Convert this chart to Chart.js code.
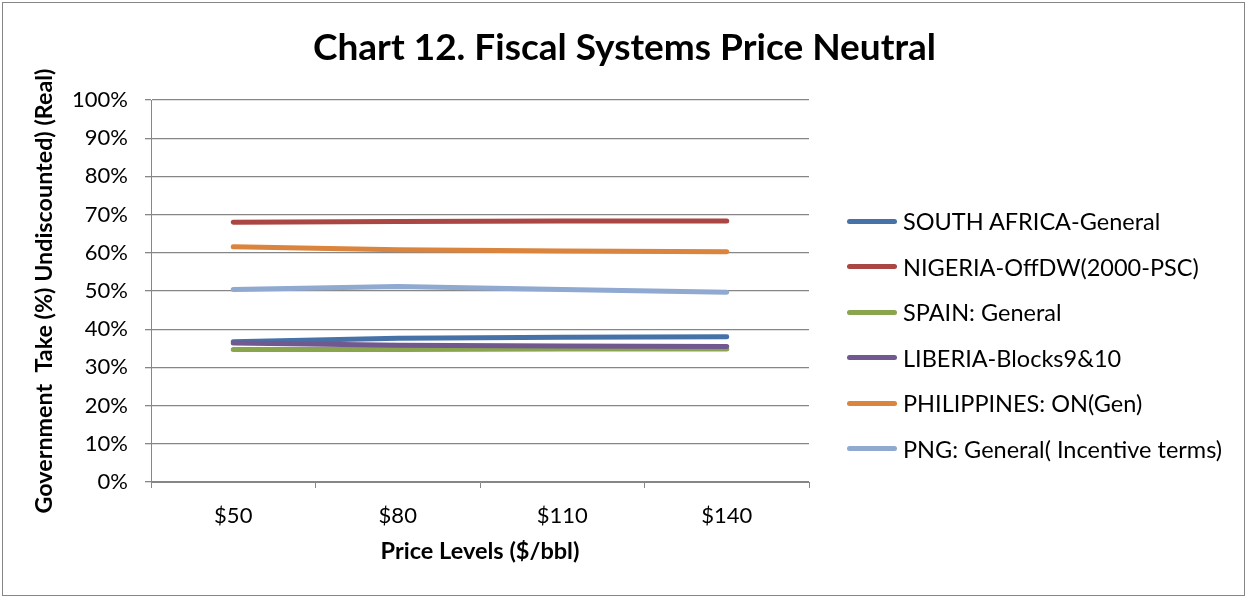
<!DOCTYPE html>
<html>
<head>
<meta charset="utf-8">
<script src="https://cdn.jsdelivr.net/npm/chart.js@4"></script>
<style>
  body { margin: 0; background: #fff; }
  .wrap { position: relative; width: 1247px; height: 598px; }
  .frame { position: absolute; left: 2px; top: 2px; width: 1241px; height: 592px; border: 1px solid #868686; pointer-events: none; }
  canvas { position: absolute; left: 0; top: 0; }
  .legend { position: absolute; left: 847px; top: 206px; font-family: Lato, sans-serif; font-size: 23.5px; color: #000; }
  .legend div { display: flex; align-items: center; height: 30px; margin-bottom: 15.5px; white-space: nowrap; }
  .legend span.sw { display: inline-block; width: 50px; height: 5px; border-radius: 2.5px; margin-right: 6px; }
</style>
</head>
<body>
<div class="wrap">
  <canvas id="chart" width="1247" height="598"></canvas>
  <div class="frame"></div>
  <div class="legend" id="legend"></div>
</div>
<script>
const prices = ["$50", "$80", "$110", "$140"];
const seriesNames = [
  "SOUTH AFRICA-General",
  "NIGERIA-OffDW(2000-PSC)",
  "SPAIN: General",
  "LIBERIA-Blocks9&10",
  "PHILIPPINES: ON(Gen)",
  "PNG: General( Incentive terms)"
];
const southAfrica = [36.7, 37.6, 37.9, 38.0];
const nigeria = [68.0, 68.2, 68.3, 68.3];
const spain = [34.7, 34.7, 34.8, 34.8];
const liberia = [36.4, 35.8, 35.6, 35.5];
const philippines = [61.6, 60.8, 60.5, 60.3];
const png = [50.4, 51.2, 50.4, 49.7];
const colors = ["#4672A8", "#AA4643", "#89A54E", "#71588F", "#DB843D", "#8FA9D0"];
const chartTitle = "Chart 12. Fiscal Systems Price Neutral";

const values = [southAfrica, nigeria, spain, liberia, philippines, png];
const font = "Lato, sans-serif";

const datasets = values.map((v, i) => ({
  label: seriesNames[i],
  data: v,
  borderColor: colors[i],
  backgroundColor: colors[i],
  borderWidth: 5,
  borderCapStyle: "round",
  borderJoinStyle: "round",
  pointRadius: 0,
  tension: 0,
  order: -i
}));

// title centred on the whole canvas, not just the plot area
const titlePlugin = {
  id: "pageTitle",
  afterDraw(chart) {
    const ctx = chart.ctx;
    ctx.save();
    ctx.font = "bold 37px " + font;
    ctx.fillStyle = "#000";
    ctx.textAlign = "center";
    ctx.textBaseline = "alphabetic";
    ctx.fillText(chartTitle, chart.width / 2 + 1, 60);
    ctx.restore();
  }
};

new Chart(document.getElementById("chart"), {
  type: "line",
  data: { labels: prices, datasets: datasets },
  options: {
    responsive: false,
    animation: false,
    devicePixelRatio: 1,
    layout: { padding: { left: 2, top: 100, right: 438, bottom: 0 } },
    plugins: {
      legend: { display: false },
      tooltip: { enabled: false }
    },
    scales: {
      x: {
        offset: true,
        grid: { offset: true, drawOnChartArea: false, drawTicks: true, tickLength: 6, color: "#868686" },
        border: { color: "#868686", width: 1 },
        ticks: { color: "#000", font: { family: font, size: 22 }, padding: 15 },
        title: {
          display: true,
          text: "Price Levels ($/bbl)",
          color: "#000",
          font: { family: font, size: 23.5, weight: "bold" },
          padding: { bottom: 32 }
        },
        afterFit: s => { s.height = 116; }
      },
      y: {
        min: 0,
        max: 100,
        grid: { color: "#868686", lineWidth: 1.3, tickLength: 6 },
        border: { color: "#868686", width: 1 },
        ticks: {
          stepSize: 10,
          color: "#000",
          font: { family: font, size: 22 },
          padding: 17,
          callback: v => v + "%"
        },
        title: {
          display: true,
          text: "Government  Take (%) Undiscounted) (Real)",
          color: "#000",
          font: { family: font, size: 23.3, weight: "bold" },
          padding: { top: 28 }
        },
        afterFit: s => { s.width = 149; }
      }
    }
  },
  plugins: [titlePlugin]
});

const legend = document.getElementById("legend");
seriesNames.forEach((name, i) => {
  const row = document.createElement("div");
  const sw = document.createElement("span");
  sw.className = "sw";
  sw.style.background = colors[i];
  row.appendChild(sw);
  row.appendChild(document.createTextNode(name));
  legend.appendChild(row);
});
</script>
</body>
</html>
